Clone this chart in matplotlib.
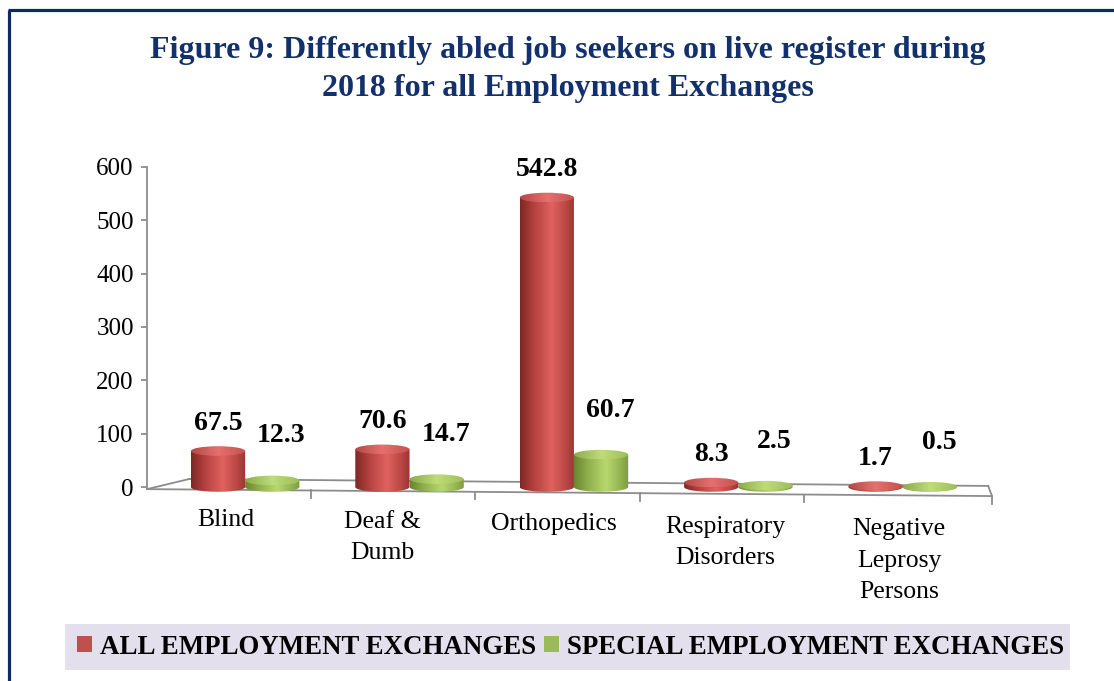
import numpy as np
import matplotlib
matplotlib.use("Agg")
import matplotlib.pyplot as plt
import matplotlib.transforms as mtransforms
from matplotlib.colors import LinearSegmentedColormap
from matplotlib.patches import Ellipse, PathPatch, Rectangle, Patch
from matplotlib.path import Path
from matplotlib.lines import Line2D

# ---------------- data ----------------
categories = ["Blind", "Deaf &\nDumb", "Orthopedics", "Respiratory\nDisorders",
              "Negative\nLeprosy\nPersons"]
all_exchanges = [67.5, 70.6, 542.8, 8.3, 1.7]
special_exchanges = [12.3, 14.7, 60.7, 2.5, 0.5]
series_names = ["ALL EMPLOYMENT EXCHANGES", "SPECIAL EMPLOYMENT EXCHANGES"]
y_ticks = [0, 100, 200, 300, 400, 500, 600]
title = "Figure 9: Differently abled job seekers on live register during\n2018 for all Employment Exchanges"

# ---------------- style ----------------
plt.rcParams["font.family"] = ["Liberation Serif", "DejaVu Serif"]
W, H = 1114, 681
navy = "#12306B"
grid_gray = "#8C8C8C"
red_main, green_main = "#C0504D", "#9BBB59"

red_cmap = LinearSegmentedColormap.from_list(
    "red", [(0, "#7E2725"), (0.25, "#B3413E"), (0.58, "#E0625F"), (0.85, "#B84643"), (1, "#9A3431")])
green_cmap = LinearSegmentedColormap.from_list(
    "green", [(0, "#68852D"), (0.25, "#8FAF4C"), (0.58, "#B8D86E"), (0.85, "#93B450"), (1, "#7E9C3D")])
red_top = LinearSegmentedColormap.from_list(
    "redtop", [(0, "#B54744"), (0.5, "#E5716E"), (1, "#C4514E")])
green_top = LinearSegmentedColormap.from_list(
    "greentop", [(0, "#8CAB4A"), (0.5, "#BEDC7A"), (1, "#9DBC5A")])

fig = plt.figure(figsize=(W / 100, H / 100), dpi=100)

# outer frame (left and top edges visible)
fig.add_artist(Line2D([9 / W, 9 / W], [0, 1 - 10 / H], transform=fig.transFigure,
                      color="#0E2A66", lw=2.3, solid_capstyle="butt"))
fig.add_artist(Line2D([8 / W, 1], [1 - 10 / H, 1 - 10 / H], transform=fig.transFigure,
                      color="#0E2A66", lw=2.3, solid_capstyle="butt"))

fig.text(568 / W, 1 - 69.5 / H, title, ha="center", va="center", fontsize=23,
         fontweight="bold", color=navy, linespacing=1.45)

ax = fig.add_axes([147 / W, 1 - 503 / H, (992 - 147) / W, (503 - 167) / H])
XL = (-0.597, 4.543)
YL = (-30, 600)

x = np.arange(len(categories))
bw = 0.33
eh = 18.0

bars_all = ax.bar(x - bw / 2, all_exchanges, bw, color="none", edgecolor="none")
bars_sp = ax.bar(x + bw / 2, special_exchanges, bw, color="none", edgecolor="none")

grad = np.linspace(0, 1, 256)[None, :]


def cylinder(rect, body_cmap, top_cmap, z):
    x0, w, h = rect.get_x(), rect.get_width(), rect.get_height()
    xc = x0 + w / 2
    t = np.linspace(np.pi, 2 * np.pi, 60)
    arc = list(zip(xc + w / 2 * np.cos(t), eh / 2 * np.sin(t)))
    verts = [(x0, h)] + arc + [(x0 + w, h), (x0, h)]
    codes = [Path.MOVETO] + [Path.LINETO] * (len(verts) - 2) + [Path.CLOSEPOLY]
    body = PathPatch(Path(verts, codes), facecolor="none", edgecolor="none", zorder=z)
    ax.add_patch(body)
    im = ax.imshow(grad, extent=[x0, x0 + w, -eh / 2, h], aspect="auto", cmap=body_cmap,
                   interpolation="bicubic", zorder=z)
    im.set_clip_path(body)
    top = Ellipse((xc, h), w, eh, facecolor="none", edgecolor="none", zorder=z + 0.1)
    ax.add_patch(top)
    im2 = ax.imshow(grad, extent=[x0, x0 + w, h - eh / 2, h + eh / 2], aspect="auto",
                    cmap=top_cmap, interpolation="bicubic", zorder=z + 0.1)
    im2.set_clip_path(top)


# floor (perspective plane)
front_l, front_r = (XL[0], -4), (XL[1], -17)
back_l, back_r = (-0.34, 15), (4.52, 2)
ax.plot([back_l[0], back_r[0]], [back_l[1], back_r[1]], color=grid_gray, lw=1.3, zorder=1)
ax.plot([front_l[0], back_l[0]], [front_l[1], back_l[1]], color=grid_gray, lw=1.3, zorder=1)
ax.plot([front_l[0], front_r[0]], [front_l[1], front_r[1]], color=grid_gray, lw=1.3, zorder=1,
        clip_on=False)
ax.plot([back_r[0], front_r[0]], [back_r[1], front_r[1]], color=grid_gray, lw=1.3, zorder=1,
        clip_on=False)

for i in range(len(categories)):
    cylinder(bars_all[i], red_cmap, red_top, 3 + i * 0.5)
    cylinder(bars_sp[i], green_cmap, green_top, 3.2 + i * 0.5)

# category boundary ticks hanging from the front edge
bounds = list(x[:-1] + 0.4) + [XL[1]]
for b in bounds:
    yf = front_l[1] + (front_r[1] - front_l[1]) * (b - XL[0]) / (XL[1] - XL[0])
    ax.plot([b, b], [yf, yf - 14], color=grid_gray, lw=1.3, clip_on=False, zorder=1)

# data labels
for rect, v in zip(bars_all, all_exchanges):
    ax.annotate(f"{v}", (rect.get_x() + rect.get_width() / 2, v), xytext=(0, 20),
                textcoords="offset points", ha="center", va="center", fontsize=20,
                fontweight="bold", zorder=10)
for rect, v in zip(bars_sp, special_exchanges):
    ax.annotate(f"{v}", (rect.get_x() + rect.get_width() / 2, v), xytext=(6.5, 32),
                textcoords="offset points", ha="center", va="center", fontsize=20,
                fontweight="bold", zorder=10)

ax.set_xlim(*XL)
ax.set_ylim(*YL)
ax.set_facecolor("none")
for s in ["top", "right", "bottom"]:
    ax.spines[s].set_visible(False)
ax.spines["left"].set_color(grid_gray)
ax.spines["left"].set_linewidth(1.3)
ax.spines["left"].set_bounds(-4, 600)
ax.set_yticks(y_ticks)
ax.set_yticklabels([str(t) for t in y_ticks], fontsize=18)
ax.tick_params(axis="y", length=4.5, width=1.3, color=grid_gray, pad=5)
ax.set_xticks(x - 0.12)
ax.set_xticklabels(categories, fontsize=18.5, linespacing=1.55)
ax.tick_params(axis="x", length=0, pad=4)
# perspective: labels further right sit slightly lower and spread out
x_shift_px = [0, -7, 0, 7, 16]
for i, lbl in enumerate(ax.get_xticklabels()):
    lbl.set_transform(lbl.get_transform() +
                      mtransforms.ScaledTranslation(x_shift_px[i] / 100, -i * 2.4 / 100,
                                                    fig.dpi_scale_trans))

# legend
fig.add_artist(Rectangle((65 / W, 1 - 670 / H), (1070 - 65) / W, 46 / H,
                         transform=fig.transFigure, facecolor="#E4DFEC", edgecolor="none", zorder=0))
handles = [Patch(facecolor=red_main), Patch(facecolor=green_main)]
leg = fig.legend(handles, series_names, loc="center left", bbox_to_anchor=(77 / W, 1 - 647 / H),
                 ncol=2, frameon=False, handlelength=0.55, handleheight=0.55,
                 handletextpad=0.3, columnspacing=0.3, borderpad=0, borderaxespad=0,
                 prop={"size": 19.4, "weight": "bold"})

fig.savefig("out.png", dpi=100)
